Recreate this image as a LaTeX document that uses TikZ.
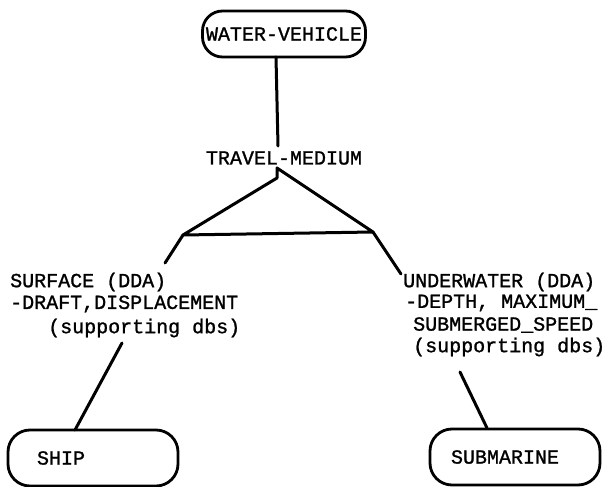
\documentclass[tikz,border=0pt]{standalone}
\usepackage{fontspec}
\setmonofont[FakeBold=1.2]{Liberation Mono}
\begin{document}
\begin{tikzpicture}[x=1pt,y=-1pt,
  lbl/.style={font=\ttfamily\fontsize{20}{22}\selectfont, inner sep=0pt, anchor=west},
  termbox/.style={draw, line width=2.8pt, rounded corners=22pt, font=\ttfamily\fontsize{20}{22}\selectfont, align=left},
  conn/.style={line width=3pt, line cap=round, line join=round}]
\useasboundingbox (0,0) rectangle (608,487);
% top terminal
\node[termbox, minimum width=163pt, minimum height=46pt, inner xsep=0pt, rounded corners=20pt] (wv) at (284,34) {WATER-VEHICLE};
\node[lbl, anchor=center] (tm) at (284,158) {TRAVEL-MEDIUM};
% texts
\node[lbl] (s1) at (10,282) {SURFACE (DDA)};
\node[lbl] (s2) at (10,304) {-DRAFT,DISPLACEMENT};
\node[lbl] (s3) at (48,328) {(supporting dbs)};
\node[lbl] (u1) at (403,282) {UNDERWATER (DDA)};
\node[lbl] (u2) at (405,303) {-DEPTH, MAXIMUM\_};
\node[lbl] (u3) at (413,325) {SUBMERGED\_SPEED};
\node[lbl] (u4) at (413,347) {(supporting dbs)};
% bottom terminals
\node[termbox, minimum width=170pt, minimum height=56pt, inner xsep=29pt, text width=112pt] (ship) at (93,458) {SHIP};
\node[termbox, minimum width=170pt, minimum height=56pt, inner xsep=21pt, text width=128pt] (sub) at (515,457) {SUBMARINE};
% coordinates
\coordinate (top1) at (276,57);
\coordinate (top2) at (278,146);
\coordinate (tick) at (277,168);
\coordinate (apex) at (277,178);
\coordinate (tl) at (183,235);
\coordinate (tr) at (373,232);
\coordinate (le) at (165,263);
\coordinate (re) at (401,274);
\coordinate (sa) at (122,343);
\coordinate (sb) at (75,430);
\coordinate (ua) at (460,372);
\coordinate (ub) at (487,428);
% connectors
\draw[conn] (top1) -- (top2);
\draw[conn] (tick) -- (apex) -- (tl) -- (tr) -- cycle;
\draw[conn] (tl) -- (le);
\draw[conn] (tr) -- (re);
\draw[conn] (sa) -- (sb);
\draw[conn] (ua) -- (ub);
\end{tikzpicture}
\end{document}
